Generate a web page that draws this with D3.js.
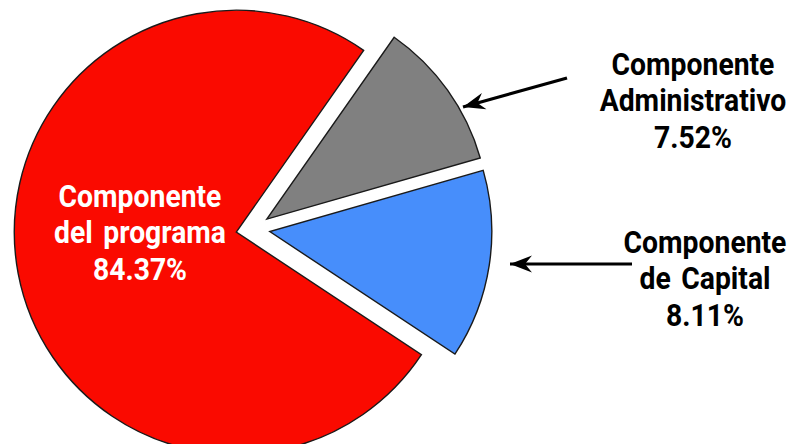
<!DOCTYPE html>
<meta charset="utf-8">
<style>
body { margin: 0; background: #fff; }
svg { display: block; }
.slice { stroke: #1a1a1a; stroke-width: 1.4; stroke-linejoin: miter; }
.lbl { font-family: Roboto, "Liberation Sans", sans-serif; font-weight: 700; font-size: 32px; text-anchor: middle; word-spacing: 4px; }
</style>
<script src="https://d3js.org/d3.v7.min.js"></script>
<svg width="804" height="444"></svg>
<script>

// chart data
var names = ["Componente Administrativo", "Componente de Capital", "Componente del programa"];
var lines = [["Componente", "Administrativo"], ["Componente", "de Capital"], ["Componente", "del programa"]];
var percents = [7.52, 8.11, 84.37];
// slice sizes as the picture draws them (degrees of arc)
var drawnShare = [39, 49.5, 271.5];
var colors = ["#808080", "#478efb", "#fa0a00"];

var svg = d3.select("svg"),
    cx = 253, cy = 229,
    radius = 222,
    explode = 17;

var pie = d3.pie()
    .sort(null)
    .value(function(d) { return d.share; })
    .startAngle(35 * Math.PI / 180)
    .endAngle(395 * Math.PI / 180);

var data = names.map(function(n, i) {
    return { name: n, lines: lines[i], pct: percents[i], share: drawnShare[i], color: colors[i] };
});

var arcs = pie(data);
var arc = d3.arc().innerRadius(0).outerRadius(radius);

function offset(d) {
    var a = (d.startAngle + d.endAngle) / 2;
    return [Math.sin(a) * explode, -Math.cos(a) * explode];
}

var g = svg.append("g").attr("transform", "translate(" + cx + "," + cy + ")");

g.selectAll("path")
    .data(arcs)
    .enter().append("path")
    .attr("class", "slice")
    .attr("transform", function(d) { return "translate(" + offset(d) + ")"; })
    .attr("fill", function(d) { return d.data.color; })
    .attr("d", arc);

// arrow marker
svg.append("defs").append("marker")
    .attr("id", "head")
    .attr("markerUnits", "userSpaceOnUse")
    .attr("viewBox", "-22 -10 24 20")
    .attr("markerWidth", 24)
    .attr("markerHeight", 20)
    .attr("refX", 0)
    .attr("refY", 0)
    .attr("orient", "auto")
    .append("path")
    .attr("d", "M0,0 L-22,-8.5 L-15,0 L-22,8.5 Z")
    .attr("fill", "#000");

// label layout: text centre x, first baseline, arrow from/to
var layout = [
    { x: 693, y: 75, from: [567, 78], to: [463, 107], fill: "#000" },
    { x: 705, y: 253, from: [632, 264], to: [510, 264], fill: "#000" },
    { x: 140, y: 207, fill: "#fff" }
];

var lineH = 36.5;

layout.forEach(function(l, i) {
    var d = data[i];
    var t = svg.append("text").attr("class", "lbl").attr("fill", l.fill)
        .attr("transform", "translate(" + l.x + "," + l.y + ") scale(0.885,1)");
    d.lines.concat([d.pct.toFixed(2) + "%"]).forEach(function(s, k) {
        t.append("tspan").attr("x", 0).attr("y", k * lineH).text(s);
    });
    if (l.from) {
        svg.append("line")
            .attr("x1", l.from[0]).attr("y1", l.from[1])
            .attr("x2", l.to[0]).attr("y2", l.to[1])
            .attr("stroke", "#000")
            .attr("stroke-width", 3.2)
            .attr("marker-end", "url(#head)");
    }
});

</script>
